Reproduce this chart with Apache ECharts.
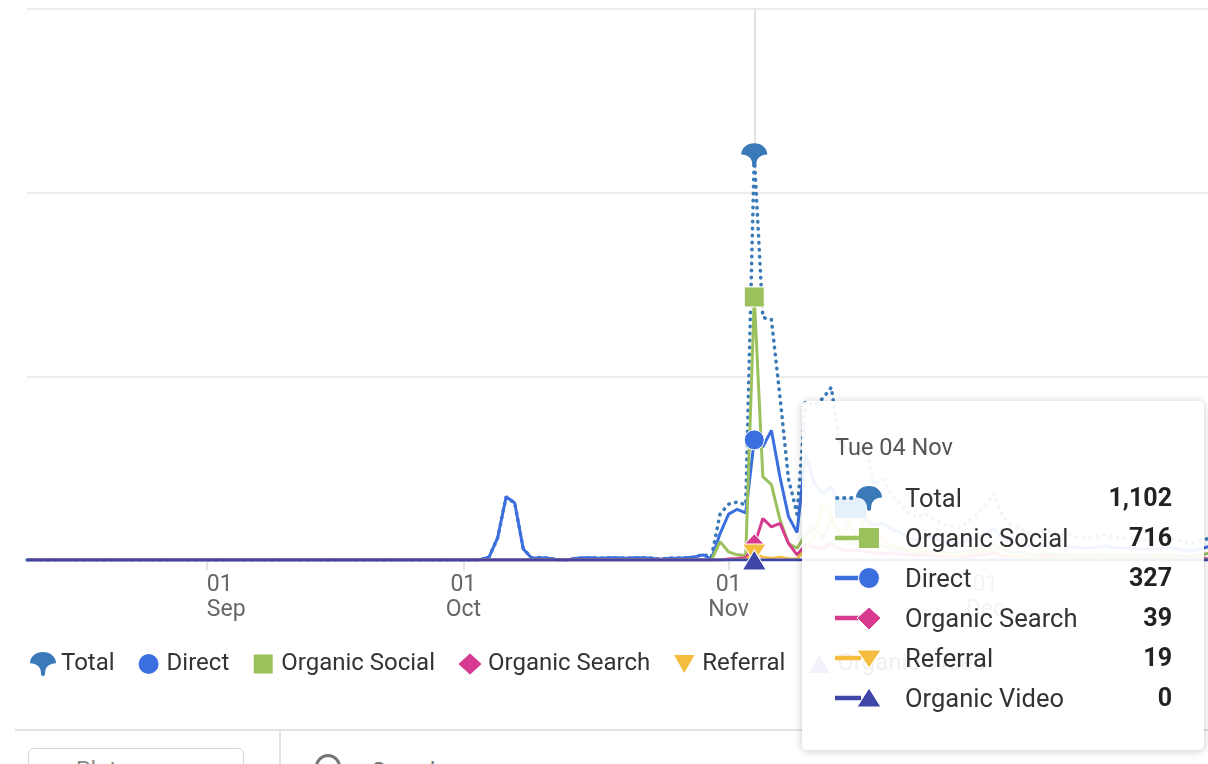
<!DOCTYPE html>
<html>
<head>
<meta charset="utf-8">
<script src="https://cdn.jsdelivr.net/npm/echarts@6/dist/echarts.min.js"></script>
<style>
html,body{margin:0;padding:0;width:1208px;height:764px;overflow:hidden;background:#fff;font-family:Roboto,"Noto Sans",sans-serif;}
#chart{position:absolute;left:0;top:0;width:1300px;height:764px;z-index:2;}
.deco{position:absolute;z-index:1;}
</style>
</head>
<body>
<div class="deco" style="left:15px;top:729px;width:1200px;border-top:2px solid #e2e2e2;"></div>
<div class="deco" style="left:279px;top:731px;height:40px;border-left:2px solid #e2e2e2;"></div>
<div class="deco" style="left:28px;top:748px;width:216px;height:40px;border:1.5px solid #d6d6d6;border-radius:6px;box-sizing:border-box;"></div>
<div class="deco" style="left:76px;top:757px;font-size:23px;color:#888;">Plot rows</div>
<div class="deco" style="left:315px;top:754px;width:20px;height:20px;border:3px solid #757575;border-radius:50%;"></div>
<div class="deco" style="left:372px;top:758px;font-size:23px;color:#757575;">Search</div>
<div id="chart"></div>
<script>
// Daily values from 2025-08-11 to 2025-12-31 (143 days)
const startDate = '2025-08-11';

const total = [
  // Aug 11-31
  0,0,0,0,0,0,0,0,0,0, 0,0,0,0,0,0,0,0,0,0, 0,
  // Sep
  0,0,0,0,0,0,0,0,0,0, 0,0,0,0,0,0,0,0,0,0, 0,0,0,0,0,0,0,0,0,0,
  // Oct
  0,0,1,8,60,172,155,30,6,7, 5,1,0,4,6,6,5,6,6,5, 6,6,5,2,5,5,6,8,15,8, 125,
  // Nov
  152,158,150,1102,660,655,445,220,125,432, 420,440,470,315,305,290,310,205,220,178, 155,130,115,126,110,98,93,88,105,125,
  // Dec
  150,180,120,95,85,75,70,80,75,70, 68,62,60,65,70,62,58,60,55,52, 55,60,58,50,45,52,58,60,55,50, 48
];

const direct = [
  0,0,0,0,0,0,0,0,0,0, 0,0,0,0,0,0,0,0,0,0, 0,
  0,0,0,0,0,0,0,0,0,0, 0,0,0,0,0,0,0,0,0,0, 0,0,0,0,0,0,0,0,0,0,
  0,0,1,8,60,172,155,30,5,6, 5,1,0,4,6,6,5,6,6,5, 6,6,5,2,5,5,6,8,14,3, 72,
  125,138,128,327,308,353,226,118,75,290, 210,180,200,150,120,140,110,95,100,85, 75,60,55,65,60,50,48,45,55,60,
  70,85,60,50,45,40,38,42,40,38, 36,34,33,35,38,34,32,33,30,29, 30,33,32,28,25,29,36,35,32,30, 28
];

const organicSocial = [
  0,0,0,0,0,0,0,0,0,0, 0,0,0,0,0,0,0,0,0,0, 0,
  0,0,0,0,0,0,0,0,0,0, 0,0,0,0,0,0,0,0,0,0, 0,0,0,0,0,0,0,0,0,0,
  0,0,0,0,0,0,0,0,0,0, 0,0,0,0,0,0,0,0,0,0, 0,0,0,0,0,0,0,0,0,0, 50,
  22,14,12,716,227,205,110,45,32,70, 90,60,110,70,50,45,40,35,40,30, 28,25,22,25,20,22,18,20,25,30,
  35,45,28,22,20,18,16,18,17,16, 16,14,14,15,16,14,13,14,12,12, 13,14,13,11,10,12,18,16,14,12, 11
];

const organicSearch = [
  0,0,0,0,0,0,0,0,0,0, 0,0,0,0,0,0,0,0,0,0, 0,
  0,0,0,0,0,0,0,0,0,0, 0,0,0,0,0,0,0,0,0,0, 0,0,0,0,0,0,0,0,0,0,
  0,0,0,0,0,0,0,0,0,0, 0,0,0,0,0,0,0,0,0,0, 0,0,0,0,0,0,0,0,0,0, 0,
  3,4,6,39,113,90,100,45,14,40, 35,30,45,30,25,28,22,20,18,20, 15,14,12,15,12,10,12,10,9,12,
  15,20,12,10,9,8,8,10,9,8, 8,7,7,8,8,7,7,7,7,6, 6,7,7,6,5,6,3,5,5,4, 5
];

const referral = [
  0,0,0,0,0,0,0,0,0,0, 0,0,0,0,0,0,0,0,0,0, 0,
  0,0,0,0,0,0,0,0,0,0, 0,0,0,0,0,0,0,0,0,0, 0,0,0,0,0,0,0,0,0,0,
  0,0,0,0,0,0,0,0,0,0, 0,0,0,0,0,0,0,0,0,0, 0,0,0,0,0,0,0,0,0,0, 0,
  0,1,2,19,8,5,8,4,3,30, 60,160,120,60,100,60,130,50,60,40, 35,30,25,20,18,15,14,12,15,20,
  25,25,15,10,8,6,6,7,6,6, 6,5,5,5,6,5,5,5,5,4, 5,5,5,4,4,4,1,3,3,3, 3
];

const organicVideo = [
  0,0,0,0,0,0,0,0,0,0, 0,0,0,0,0,0,0,0,0,0, 0,
  0,0,0,0,0,0,0,0,0,0, 0,0,0,0,0,0,0,0,0,0, 0,0,0,0,0,0,0,0,0,0,
  0,0,0,0,0,0,0,0,0,0, 0,0,0,0,0,0,0,0,0,0, 0,0,0,0,0,0,0,0,0,0, 0,
  0,0,0,0,0,0,0,0,0,0, 0,0,0,0,0,0,0,0,0,0, 0,0,0,0,0,0,0,0,0,0,
  0,0,0,0,0,0,0,0,0,0, 0,0,0,0,0,0,0,0,0,0, 0,0,0,0,0,0,0,0,0,0, 0
];

const seriesNames = ['Total', 'Direct', 'Organic Social', 'Organic Search', 'Referral', 'Organic Video'];
const hoverDate = '2025-11-04';
const monthNames = ['Jan','Feb','Mar','Apr','May','Jun','Jul','Aug','Sep','Oct','Nov','Dec'];
const dayNames = ['Sun','Mon','Tue','Wed','Thu','Fri','Sat'];

// category list: one per day
const dates = [];
{
  const t0 = Date.parse(startDate + 'T00:00:00Z');
  for (let i = 0; i < total.length; i++) dates.push(new Date(t0 + i * 86400000).toISOString().slice(0, 10));
}

const COLORS = {
  'Total': '#3a7ab8',
  'Direct': '#3b6fe0',
  'Organic Social': '#9ac15c',
  'Organic Search': '#d63b8f',
  'Referral': '#f5bd40',
  'Organic Video': '#3f46a8'
};
const PIN_D = 'M14,0 C21.7,0 28,5 28,12 C22,12 17.5,15 16.5,20 L16,25 Q14,26.5 12,25 L11.5,20 C10.5,15 6,12 0,12 C0,5 6.3,0 14,0 Z';
const PIN = 'path://' + PIN_D;
const DOWN_TRI = 'path://M0,0 L20,0 L10,17 Z';
const LEG_CIRCLE = 'path://M0,0 L0,0 M24,24 L24,24 M1,12 A11,11 0 1,1 23,12 A11,11 0 1,1 1,12 Z';
const LEG_SQUARE = 'path://M0,0 L0,0 M24,24 L24,24 M1.5,1.5 L22.5,1.5 L22.5,22.5 L1.5,22.5 Z';
const LEG_DOWN = 'path://M0,0 L0,0 M24,24 L24,24 M0,2 L24,2 L12,23 Z';
const LEG_UP = 'path://M0,0 L0,0 M24,24 L24,24 M0,22 L24,22 L12,1 Z';

function mkSeries(name, data, symbol, size, lineStyle, extra, border) {
  const bw = border === undefined ? 1 : border;
  return Object.assign({
    name: name,
    type: 'line',
    z: 3,
    data: data,
    symbol: symbol,
    symbolSize: size,
    showSymbol: false,
    smooth: false,
    color: COLORS[name],
    itemStyle: { color: COLORS[name], borderColor: '#ffffff', borderWidth: bw },
    lineStyle: Object.assign({ color: COLORS[name], width: 3 }, lineStyle),
    emphasis: {
      scale: false, focus: 'none',
      itemStyle: { color: COLORS[name], borderColor: '#ffffff', borderWidth: bw },
      lineStyle: Object.assign({ color: COLORS[name], width: 3 }, lineStyle)
    },
    animation: false
  }, extra || {});
}

const series = [
  mkSeries('Total', total, PIN, [26, 24], { type: [0.5, 6.5], cap: 'round', width: 3.6 },
           { areaStyle: { color: '#e9f4fc', opacity: 1 } }, 0),
  mkSeries('Direct', direct, 'circle', 20, { width: 3 }),
  mkSeries('Organic Social', organicSocial, 'rect', 20, { width: 3 }),
  mkSeries('Organic Search', organicSearch, 'diamond', [23, 24], { width: 3 }),
  mkSeries('Referral', referral, DOWN_TRI, [24, 18], { width: 2.5 }),
  mkSeries('Organic Video', organicVideo, 'triangle', [24, 20], { width: 3 })
];

function isMonthStart(index, value) { return value.slice(8) === '01'; }

function tickLabel(value) {
  const d = new Date(value + 'T00:00:00Z');
  const day = String(d.getUTCDate()).padStart(2, '0');
  const mon = monthNames[d.getUTCMonth()];
  if (mon === 'Sep') return '{a|' + day + '}\n{b|' + mon + '}';
  return day + '\n' + mon;
}

function iconSvg(name) {
  const c = COLORS[name];
  const line = '<line x1="0" y1="15" x2="26" y2="15" stroke="' + c + '" stroke-width="4.5"/>';
  let mk = '';
  if (name === 'Total') {
    return '<svg width="50" height="30" style="overflow:visible;display:block">' +
      '<rect x="0" y="15" width="31" height="20" fill="#e4f1fb"/>' +
      '<line x1="2" y1="15" x2="22" y2="15" stroke="' + c + '" stroke-width="3.8" stroke-linecap="round" stroke-dasharray="0.5 6.5"/>' +
      '<path d="' + PIN_D + '" fill="' + c + '" transform="translate(21,3) scale(0.93,0.96)"/></svg>';
  }
  if (name === 'Direct') mk = '<circle cx="34" cy="15" r="10.5" fill="' + c + '" stroke="#fff" stroke-width="1"/>';
  if (name === 'Organic Social') mk = '<rect x="24" y="5" width="20" height="20" fill="' + c + '"/>';
  if (name === 'Organic Search') mk = '<polygon points="34,4 46,15 34,27 22,15" fill="' + c + '" stroke="#fff" stroke-width="1"/>';
  if (name === 'Referral') mk = '<polygon points="22,7 46,7 34,25" fill="' + c + '" stroke="#fff" stroke-width="1"/>';
  if (name === 'Organic Video') mk = '<polygon points="22,24 46,24 34,5" fill="' + c + '" stroke="#fff" stroke-width="1"/>';
  return '<svg width="50" height="30" style="overflow:visible;display:block">' + line + mk + '</svg>';
}

function tooltipHtml(params) {
  const idx = params[0].dataIndex;
  const d = new Date(dates[idx] + 'T00:00:00Z');
  const title = dayNames[d.getUTCDay()] + ' ' + String(d.getUTCDate()).padStart(2, '0') + ' ' + monthNames[d.getUTCMonth()];
  const rows = params.map(p => ({ name: p.seriesName, v: Number(p.value) }))
    .sort((a, b) => b.v - a.v);
  let h = '<div style="width:402px;box-sizing:border-box;padding:31px 32px 32px 33px;font-family:Roboto,sans-serif;">';
  h += '<div style="font-size:23.5px;line-height:30px;color:#555;height:30px;">' + title + '</div>';
  h += '<div style="height:16px"></div>';
  rows.forEach(r => {
    h += '<div style="display:flex;align-items:center;height:40px;">' +
      '<div style="width:70px;height:30px;">' + iconSvg(r.name) + '</div>' +
      '<div style="flex:1;font-size:25.5px;color:#333;line-height:40px;">' + r.name + '</div>' +
      '<div style="font-size:25px;font-weight:700;color:#222;line-height:40px;">' + r.v.toLocaleString('en-US') + '</div></div>';
  });
  h += '</div>';
  return h;
}

const chart = echarts.init(document.getElementById('chart'), null, { renderer: 'canvas' });
chart.setOption({
  animation: false,
  backgroundColor: 'transparent',
  textStyle: { fontFamily: 'Roboto, "Noto Sans", sans-serif' },
  grid: { left: 27, top: 9, width: 1215, height: 551, containLabel: false },
  legend: {
    left: 25, top: 646,
    itemWidth: 26, itemHeight: 24, itemGap: 21,
    selectedMode: false,
    textStyle: { fontSize: 24, color: '#333', fontFamily: 'Roboto' },
    data: [
      { name: 'Total', icon: PIN },
      { name: 'Direct', icon: LEG_CIRCLE },
      { name: 'Organic Social', icon: LEG_SQUARE },
      { name: 'Organic Search', icon: 'diamond' },
      { name: 'Referral', icon: LEG_DOWN },
      { name: 'Organic Video', icon: LEG_UP }
    ]
  },
  tooltip: {
    trigger: 'axis',
    triggerOn: 'none',
    alwaysShowContent: true,
    position: [802, 401],
    padding: 0,
    borderWidth: 0,
    backgroundColor: 'rgba(255,255,255,0.93)',
    transitionDuration: 0,
    extraCssText: 'box-shadow:0 1px 9px rgba(0,0,0,0.22);border-radius:6px;',
    axisPointer: { type: 'line', z: 1, animation: false, lineStyle: { color: '#d9d9d9', width: 1.5, type: 'solid' }, label: { show: false } },
    formatter: tooltipHtml
  },
  xAxis: {
    type: 'category',
    data: dates,
    boundaryGap: false,
    axisLine: { show: true, lineStyle: { color: '#ccd6eb', width: 1 } },
    axisTick: { show: true, interval: isMonthStart, length: 10, lineStyle: { color: '#dadada', width: 1.5 } },
    axisLabel: {
      interval: isMonthStart,
      formatter: tickLabel,
      color: '#666', fontSize: 23, lineHeight: 25, margin: 13, fontFamily: 'Roboto',
      rich: {
        a: { color: '#666', fontSize: 23, lineHeight: 25, fontFamily: 'Roboto', padding: [0, 0, 0, 26] },
        b: { color: '#666', fontSize: 23, lineHeight: 25, fontFamily: 'Roboto', padding: [0, 0, 0, 39] }
      }
    },
    splitLine: { show: false }
  },
  yAxis: {
    type: 'value', min: 0, max: 1500, interval: 500,
    axisLabel: { show: false }, axisLine: { show: false }, axisTick: { show: false },
    splitLine: { lineStyle: { color: '#e6e6e6', width: 1.5 } }
  },
  series: series
});

function showHover() {
  chart.dispatchAction({ type: 'showTip', seriesIndex: 0, dataIndex: dates.indexOf(hoverDate) });
}
showHover();
setTimeout(showHover, 30);
</script>
</body>
</html>
